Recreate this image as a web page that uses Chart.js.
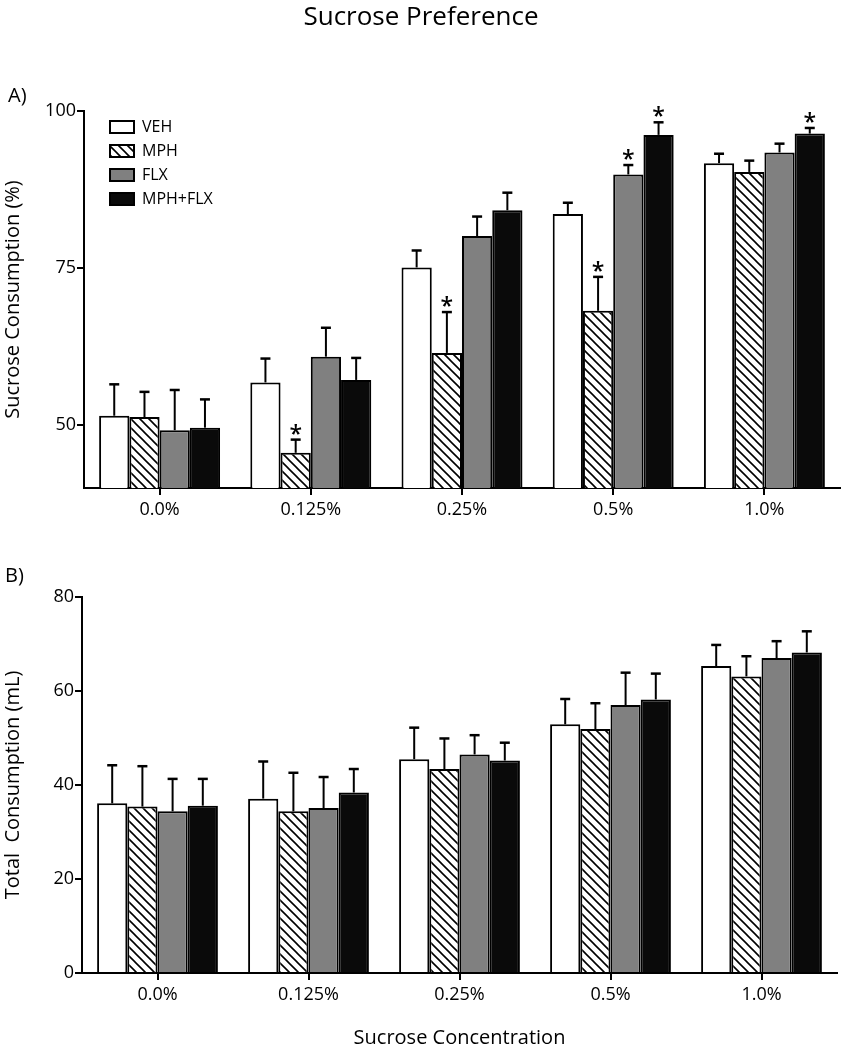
<!DOCTYPE html>
<html>
<head>
<meta charset="utf-8">
<script src="https://cdn.jsdelivr.net/npm/chart.js@4.4.1/dist/chart.umd.min.js"></script>
<style>
  html, body { margin: 0; padding: 0; background: #fff; }
  body { width: 842px; height: 1050px; position: relative; overflow: hidden; font-family: "Open Sans", sans-serif; color: #000; }
  .lbl { position: absolute; white-space: nowrap; line-height: 1; }
  #title { left: 0; width: 842px; top: 2px; text-align: center; font-size: 26px; }
  #la { left: 8px; top: 85px; font-size: 20px; }
  #lb { left: 5px; top: 565px; font-size: 20px; }
  #w1 { position: absolute; left: 0; top: 0; width: 842px; height: 530px; }
  #w2 { position: absolute; left: 0; top: 530px; width: 842px; height: 520px; }
</style>
</head>
<body>
<div id="w1"><canvas id="c1"></canvas></div>
<div id="w2"><canvas id="c2"></canvas></div>
<div class="lbl" id="title">Sucrose Preference</div>
<div class="lbl" id="la">A)</div>
<div class="lbl" id="lb">B)</div>
<script>
// ---- data ----
const categories = ['0.0%', '0.125%', '0.25%', '0.5%', '1.0%'];
const groupNames = ['VEH', 'MPH', 'FLX', 'MPH+FLX'];

// Panel A: Sucrose Consumption (%)
const prefVEH    = [51.5, 56.8, 75.1, 83.6, 91.7];
const prefMPH    = [51.3, 45.6, 61.5, 68.2, 90.3];
const prefFLX    = [49.2, 60.9, 80.1, 89.9, 93.4];
const prefMPHFLX = [49.6, 57.2, 84.2, 96.2, 96.4];
const prefErrVEH    = [5.0, 3.8, 2.7, 1.8, 1.5];
const prefErrMPH    = [4.0, 2.1, 6.5, 5.4, 1.8];
const prefErrFLX    = [6.4, 4.6, 3.1, 1.5, 1.4];
const prefErrMPHFLX = [4.5, 3.5, 2.8, 2.0, 0.9];
const prefSigVEH    = [0, 0, 0, 0, 0];
const prefSigMPH    = [0, 1, 1, 1, 0];
const prefSigFLX    = [0, 0, 0, 1, 0];
const prefSigMPHFLX = [0, 0, 0, 1, 1];
const prefMin = 40, prefMax = 100, prefStep = 25;

// Panel B: Total Consumption (mL)
const totVEH    = [36.1, 37.1, 45.5, 52.9, 65.3];
const totMPH    = [35.4, 34.4, 43.4, 51.9, 63.1];
const totFLX    = [34.4, 35.1, 46.5, 57.0, 67.0];
const totMPHFLX = [35.6, 38.4, 45.2, 58.2, 68.2];
const totErrVEH    = [8.1, 7.9, 6.7, 5.4, 4.5];
const totErrMPH    = [8.6, 8.2, 6.5, 5.5, 4.3];
const totErrFLX    = [6.9, 6.6, 4.1, 6.9, 3.6];
const totErrMPHFLX = [5.7, 5.0, 3.8, 5.5, 4.5];
const totMin = 0, totMax = 80, totStep = 20;

// ---- styles ----
const FONT = '"Open Sans", sans-serif';
function makeHatch() {
  const c = document.createElement('canvas');
  c.width = 9; c.height = 9;
  const g = c.getContext('2d');
  g.fillStyle = '#fff'; g.fillRect(0, 0, 9, 9);
  g.strokeStyle = '#000'; g.lineWidth = 1.6;
  g.beginPath();
  g.moveTo(-2, -2); g.lineTo(11, 11);
  g.moveTo(-2, 7); g.lineTo(2, 11);
  g.moveTo(7, -2); g.lineTo(11, 2);
  g.stroke();
  return g.createPattern(c, 'repeat');
}
const hatch = makeHatch();
const fills = ['#ffffff', hatch, '#808080', '#0a0a0a'];

function buildDatasets(vals, errs, sigs) {
  return groupNames.map((name, i) => ({
    label: name,
    data: vals[i],
    errors: errs[i],
    sig: sigs ? sigs[i] : null,
    backgroundColor: fills[i],
    borderColor: '#000',
    borderWidth: 2,
    borderSkipped: 'bottom',
    categoryPercentage: 0.8,
    barPercentage: 1.0
  }));
}

const errorPlugin = {
  id: 'errbars',
  afterDatasetsDraw(chart) {
    const ctx = chart.ctx;
    const ys = chart.scales.y;
    ctx.save();
    chart.data.datasets.forEach((ds, i) => {
      const meta = chart.getDatasetMeta(i);
      meta.data.forEach((bar, j) => {
        const v = ds.data[j], e = ds.errors[j];
        const yTop = ys.getPixelForValue(v);
        const yE = ys.getPixelForValue(v + e);
        ctx.strokeStyle = '#000';
        ctx.lineWidth = 2;
        ctx.beginPath();
        ctx.moveTo(bar.x, yTop);
        ctx.lineTo(bar.x, yE);
        ctx.stroke();
        ctx.lineWidth = 2.5;
        ctx.beginPath();
        ctx.moveTo(bar.x - 5, yE);
        ctx.lineTo(bar.x + 5, yE);
        ctx.stroke();
        if (ds.sig && ds.sig[j]) {
          ctx.fillStyle = '#000';
          ctx.font = '600 23px ' + FONT;
          ctx.textAlign = 'center';
          ctx.textBaseline = 'alphabetic';
          ctx.fillText('*', bar.x, yE + 2);
        }
      });
    });
    ctx.restore();
  }
};

const legendPlace = {
  id: 'legendPlace',
  afterLayout(chart) {
    if (chart.legend && chart.options.plugins.legend.display) {
      const a = chart.chartArea;
      chart.legend.left = a.left + 18;
      chart.legend.top = a.top;
      chart.legend.right = a.right;
      chart.legend.bottom = a.bottom;
    }
  }
};

function makeOptions(cfg) {
  return {
    responsive: true,
    maintainAspectRatio: false,
    animation: false,
    layout: { padding: { top: cfg.padTop, right: cfg.padRight, bottom: 0, left: 0 } },
    plugins: {
      tooltip: { enabled: false },
      legend: cfg.legend ? {
        display: true,
        position: 'chartArea',
        align: 'start',
        labels: {
          boxWidth: 24, boxHeight: 12, padding: 8,
          color: '#000', font: { family: FONT, size: 16 }
        }
      } : { display: false }
    },
    scales: {
      x: {
        type: 'category',
        offset: true,
        grid: { display: true, offset: false, drawOnChartArea: false, drawTicks: true, tickLength: 7, color: '#000', lineWidth: 2 },
        border: { display: true, color: '#000', width: 2 },
        ticks: { color: '#000', font: { family: FONT, size: 18 }, padding: 4, maxRotation: 0 },
        title: cfg.xTitle ? { display: true, text: cfg.xTitle, color: '#000', font: { family: FONT, size: 20 }, padding: { top: 0, bottom: 0 } } : { display: false },
        afterFit(s) { s.height = cfg.xHeight; }
      },
      y: {
        min: cfg.min, max: cfg.max,
        grid: { display: true, drawOnChartArea: false, drawTicks: true, tickLength: 7, color: '#000', lineWidth: 2 },
        border: { display: true, color: '#000', width: 2 },
        ticks: { stepSize: cfg.step, includeBounds: false, color: '#000', font: { family: FONT, size: 18 }, padding: 1 },
        title: { display: true, text: cfg.yTitle, color: '#000', font: { family: FONT, size: 20 }, padding: { top: 1, bottom: 0 } },
        afterFit(s) { s.width = cfg.yWidth; }
      }
    }
  };
}

new Chart(document.getElementById('c1'), {
  type: 'bar',
  data: {
    labels: categories,
    datasets: buildDatasets(
      [prefVEH, prefMPH, prefFLX, prefMPHFLX],
      [prefErrVEH, prefErrMPH, prefErrFLX, prefErrMPHFLX],
      [prefSigVEH, prefSigMPH, prefSigFLX, prefSigMPHFLX])
  },
  options: makeOptions({ padTop: 111, padRight: 2, min: prefMin, max: prefMax, step: prefStep,
    yTitle: 'Sucrose Consumption (%)', yWidth: 84, xHeight: 42, legend: true, xTitle: null }),
  plugins: [errorPlugin, legendPlace]
});

new Chart(document.getElementById('c2'), {
  type: 'bar',
  data: {
    labels: categories,
    datasets: buildDatasets(
      [totVEH, totMPH, totFLX, totMPHFLX],
      [totErrVEH, totErrMPH, totErrFLX, totErrMPHFLX],
      null)
  },
  options: makeOptions({ padTop: 67, padRight: 5, min: totMin, max: totMax, step: totStep,
    yTitle: 'Total  Consumption (mL)', yWidth: 82, xHeight: 77, legend: false, xTitle: 'Sucrose Concentration' }),
  plugins: [errorPlugin]
});
</script>
</body>
</html>
